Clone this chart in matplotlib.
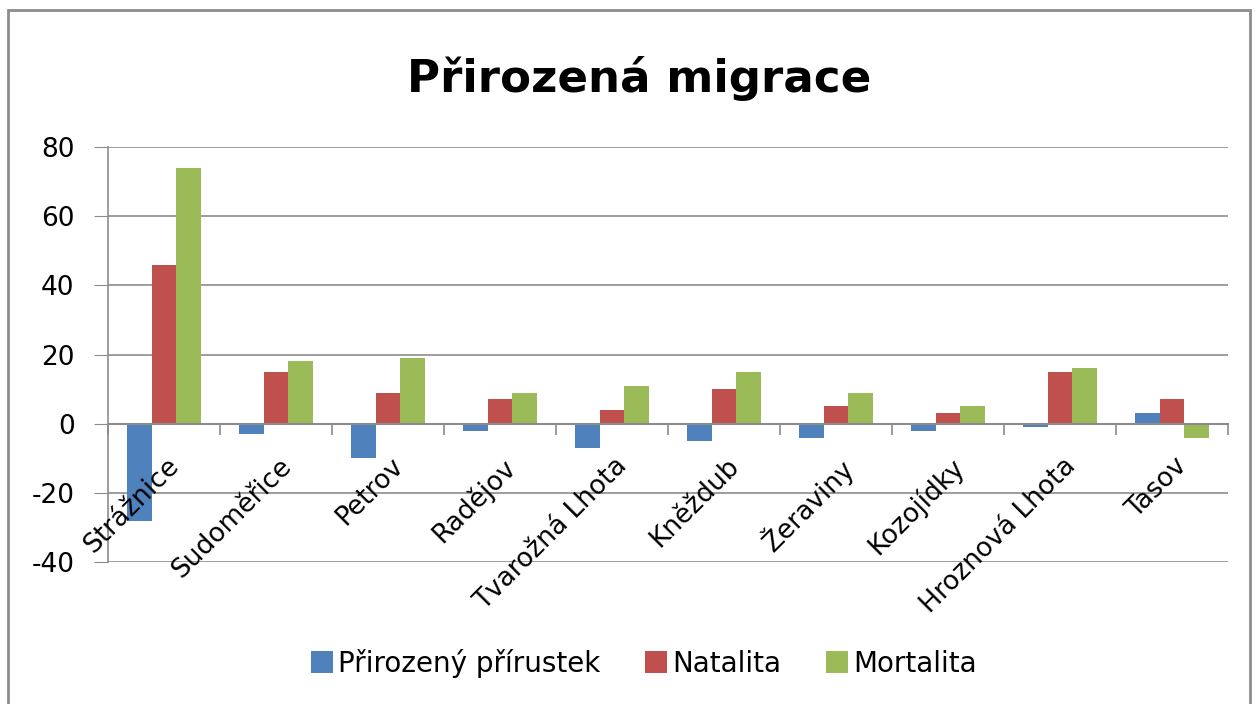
import numpy as np
import matplotlib
matplotlib.use("Agg")
from matplotlib import pyplot as plt
from matplotlib.patches import Rectangle

obce = ["Strážnice", "Sudoměřice", "Petrov", "Radějov", "Tvarožná Lhota",
        "Kněždub", "Žeraviny", "Kozojídky", "Hroznová Lhota", "Tasov"]
prirustek = [-28, -3, -10, -2, -7, -5, -4, -2, -1, 3]
natalita = [46, 15, 9, 7, 4, 10, 5, 3, 15, 7]
mortalita = [74, 18, 19, 9, 11, 15, 9, 5, 16, -4]
y_ticks = [-40, -20, 0, 20, 40, 60, 80]

plt.rcParams['font.family'] = ['DejaVu Sans']
plt.rcParams['axes.unicode_minus'] = False

fig = plt.figure(figsize=(12.56, 7.04), dpi=100)
# outer chart border
fig.patches.append(Rectangle((8 / 1256, -0.05), 1242 / 1256, 1.05 - 10 / 704,
                             transform=fig.transFigure, fill=False,
                             edgecolor='#8c8c8c', linewidth=2))
ax = fig.add_axes([108 / 1256, 1 - 562 / 704, 1120 / 1256, 415 / 704])

x = np.arange(len(obce))
w = 0.223
ax.bar(x - w, prirustek, w, color='#4F81BD', label='Přirozený přírustek', zorder=3)
ax.bar(x, natalita, w, color='#C0504D', label='Natalita', zorder=3)
ax.bar(x + w, mortalita, w, color='#9BBB59', label='Mortalita', zorder=3)

ax.set_xlim(-0.5, len(obce) - 0.5)
ax.set_ylim(-40, 80)
ax.set_yticks(y_ticks)
ax.tick_params(axis='y', labelsize=19, length=10, color='#8c8c8c', pad=14)
ax.yaxis.grid(True, color='#8c8c8c', linewidth=1.2, zorder=0)
ax.set_axisbelow(True)

for s in ['top', 'right']:
    ax.spines[s].set_visible(False)
ax.spines['left'].set_color('#8c8c8c')
ax.spines['left'].set_linewidth(1.2)
ax.spines['bottom'].set_position(('data', 0))
ax.spines['bottom'].set_color('#8c8c8c')
ax.spines['bottom'].set_linewidth(1.5)
ax.spines['bottom'].set_zorder(4)

# ticks between categories on the zero line
ax.set_xticks(np.arange(len(obce) + 1) - 0.5)
ax.set_xticklabels([])
ax.tick_params(axis='x', length=8, color='#8c8c8c', width=1.2)
for i, name in enumerate(obce):
    ax.text(i + 0.02, -8.5, name, rotation=45, ha='right', va='top',
            rotation_mode='anchor', fontsize=19, color='black')

fig.text(0.509, 0.888, "Přirozená migrace", ha='center', va='center',
         fontsize=32.5, fontweight='bold')

fig.legend(loc='center', bbox_to_anchor=(0.5125, 0.058), ncol=3, frameon=False,
           fontsize=20, handlelength=0.8, handleheight=0.8, handletextpad=0.18,
           columnspacing=1.6)

fig.savefig("out.png", dpi=100)
